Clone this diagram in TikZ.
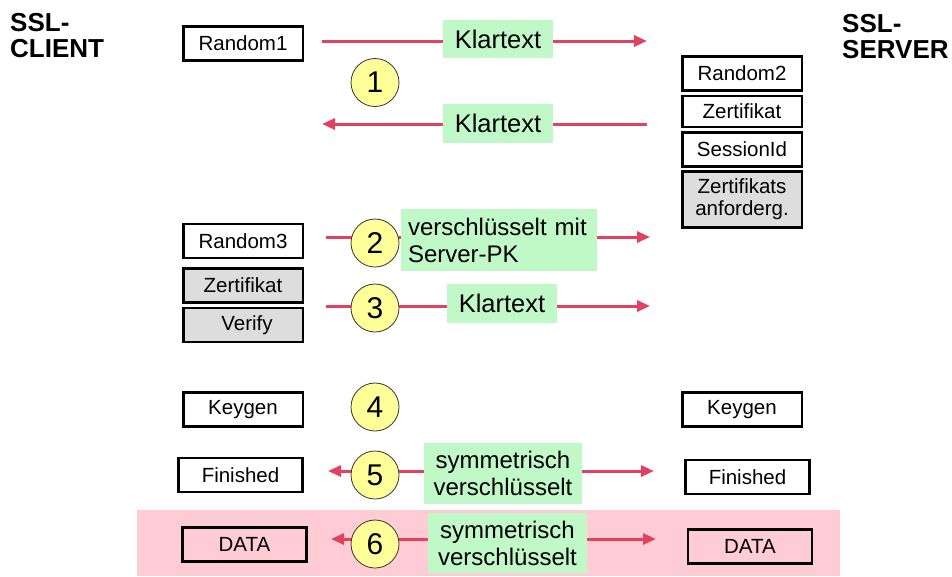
\documentclass[tikz,border=0pt]{standalone}
\usepackage{fontspec}
\setmainfont{Liberation Sans}
\usetikzlibrary{arrows.meta}
\definecolor{arrred}{RGB}{228,64,96}
\definecolor{lgreen}{RGB}{192,248,200}
\definecolor{cyell}{RGB}{255,255,153}
\definecolor{lgray}{RGB}{221,221,221}
\definecolor{lpink}{RGB}{255,204,213}
\tikzset{
  box/.style={draw=black, line width=2.5pt, fill=white, inner sep=0pt, minimum width=119.5pt, minimum height=34pt, font=\fontsize{20.5}{22}\selectfont, align=center},
  graybox/.style={box, fill=lgray},
  glabel/.style={fill=lgreen, inner sep=0pt, font=\fontsize{24}{27}\selectfont},
  klabel/.style={glabel, minimum width=110pt, minimum height=39pt, font=\fontsize{25.5}{27}\selectfont},
  numc/.style={circle, draw=black!80, line width=0.8pt, fill=cyell, minimum size=48pt, inner sep=0pt, font=\fontsize{30}{30}\selectfont},
  arr/.style={draw=arrred, line width=3pt, -{Triangle[length=13pt,width=11pt]}},
  darr/.style={draw=arrred, line width=3pt, {Triangle[length=13pt,width=11pt]}-{Triangle[length=13pt,width=11pt]}},
  title/.style={inner sep=0pt, align=left, font=\fontsize{26}{26}\bfseries\selectfont, anchor=north west}
}
\begin{document}
\begin{tikzpicture}[x=1pt,y=-1pt]
\useasboundingbox (0,0) rectangle (952,576);
% pink background
\fill[lpink] (137,510) rectangle (840,576);
% titles
\node[title] (client) at (10,13) {SSL-\\CLIENT};
\node[title] (server) at (842,14) {SSL-\\SERVER};
% client boxes
\node[box] (r1) at (243,43.5) {Random1};
\node[box] (r3) at (243,241) {Random3};
\node[graybox] (zc) at (243,285.5) {Zertifikat};
\node[graybox] (vf) at (243,325) {\hspace*{8pt}Verify};
\node[box] (kc) at (243,409.5) {Keygen};
\node[box, minimum width=124pt] (fc) at (240.5,475) {Finished};
\node[box, minimum width=124pt, fill=lpink] (dc) at (244.5,544.5) {DATA};
% server boxes
\node[box] (r2) at (742,73.5) {Random2};
\node[box, minimum height=31pt] (zs) at (742,111.5) {Zertifikat};
\node[box] (si) at (742,149.5) {SessionId};
\node[graybox, minimum height=56pt] (za) at (742,199.5) {Zertifikats\\anforderg.};
\node[box] (ks) at (742,409.5) {Keygen};
\node[box, minimum width=124pt] (fs) at (747.5,477) {Finished};
\node[box, minimum width=124pt, fill=lpink] (ds) at (750,546.5) {DATA};
% arrow end points
\coordinate (a1s) at (322,41);  \coordinate (a1e) at (647,41);
\coordinate (a2s) at (647,124); \coordinate (a2e) at (322,124);
\coordinate (a3s) at (326,237); \coordinate (a3e) at (650,237);
\coordinate (a4s) at (326,306); \coordinate (a4e) at (650,306);
\coordinate (a5s) at (328,471); \coordinate (a5e) at (654,471);
\coordinate (a6s) at (331,539); \coordinate (a6e) at (656,539);
\draw[arr] (a1s) -- (a1e);
\draw[arr] (a2s) -- (a2e);
\draw[arr] (a3s) -- (a3e);
\draw[arr] (a4s) -- (a4e);
\draw[darr] (a5s) -- (a5e);
\draw[darr] (a6s) -- (a6e);
% green labels
\node[klabel, minimum height=38pt] (k1) at (498,39) {Klartext};
\node[klabel] (k2) at (498,123.5) {Klartext};
\node[glabel, minimum width=196pt, minimum height=62pt, align=left, text width=182pt] (g2) at (499,240) {verschlüsselt mit\\Server-PK};
\node[klabel] (k3) at (502,303.5) {Klartext};
\node[glabel, minimum width=158pt, minimum height=61pt, align=center] (g5) at (503,473.5) {symmetrisch\\verschlüsselt};
\node[glabel, minimum width=159pt, minimum height=60pt, align=center] (g6) at (507.5,543) {symmetrisch\\verschlüsselt};
% circles
\node[numc] (c1) at (375,82.5) {1};
\node[numc] (c2) at (375,243) {2};
\node[numc] (c3) at (375,308) {3};
\node[numc] (c4) at (375,407) {4};
\node[numc] (c5) at (375,475) {5};
\node[numc] (c6) at (375,544) {6};
\end{tikzpicture}
\end{document}
